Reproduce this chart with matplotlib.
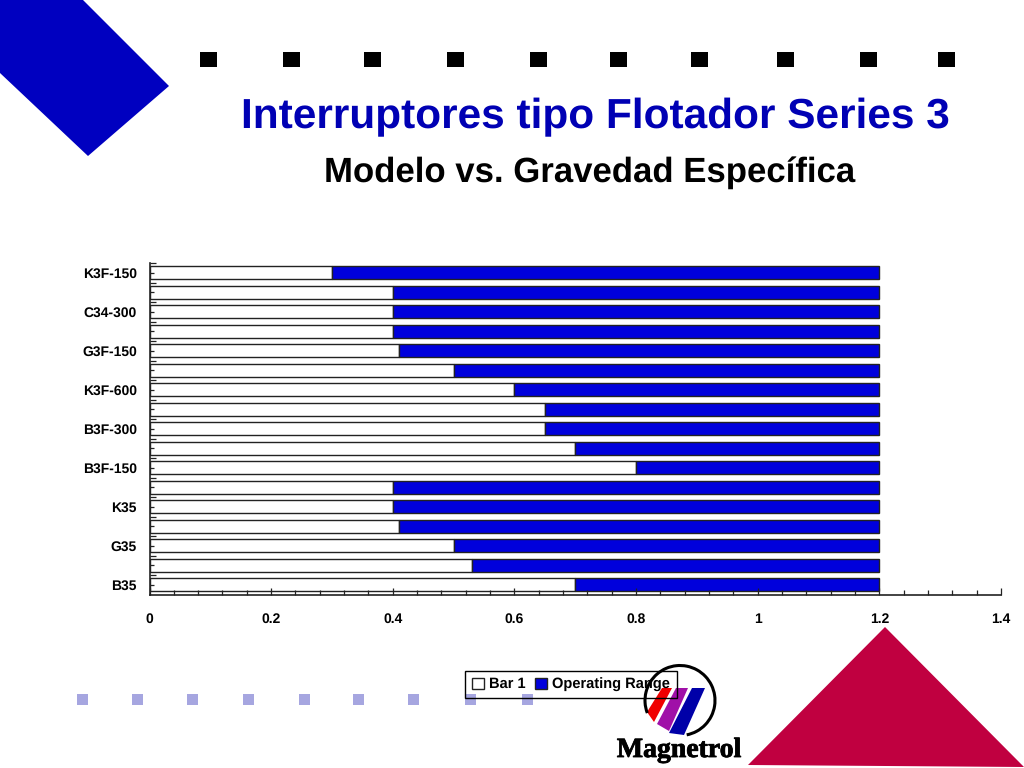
"""Interruptores tipo Flotador Series 3: modelo vs. gravedad especifica."""
import matplotlib
matplotlib.use("Agg")
import matplotlib.pyplot as plt
import matplotlib.patheffects as pe
import numpy as np
from matplotlib.patches import Arc, Polygon, Rectangle

plt.rcParams["font.family"] = ["Liberation Sans", "DejaVu Sans"]
plt.rcParams["text.hinting"] = "no_hinting"

# bottom to top, as the horizontal axis category order runs
models = ["B35", "", "G35", "", "K35", "", "B3F-150", "", "B3F-300", "",
          "K3F-600", "", "G3F-150", "", "C34-300", "", "K3F-150"]
bar_1 = [0.7, 0.53, 0.5, 0.41, 0.4, 0.4, 0.8, 0.7, 0.65, 0.65,
         0.6, 0.5, 0.41, 0.4, 0.4, 0.4, 0.3]
operating_range = [0.5, 0.67, 0.7, 0.79, 0.8, 0.8, 0.4, 0.5, 0.55, 0.55,
                   0.6, 0.7, 0.79, 0.8, 0.8, 0.8, 0.9]
x_ticks = [0, 0.2, 0.4, 0.6, 0.8, 1, 1.2, 1.4]
x_tick_labels = ["0", "0.2", "0.4", "0.6", "0.8", "1", "1.2", "1.4"]

W, H = 1024, 768
BAR_BLUE = "#0000dc"
DECO_BLUE = "#0000c0"
CRIMSON = "#c00040"
LILAC = "#a6a6e0"
EDGE = "#222222"

fig = plt.figure(figsize=(W / 100, H / 100), dpi=100, facecolor="white")

# slide decoration, in pixel coordinates
deco = fig.add_axes([0, 0, 1, 1], zorder=0)
deco.set_xlim(0, W)
deco.set_ylim(H, 0)
deco.axis("off")

deco.add_patch(Polygon([(0, 0), (83, 0), (169, 86), (88, 156), (0, 73)], color=DECO_BLUE, lw=0))
deco.add_patch(Polygon([(885, 627), (1024, 767), (748, 765)], color=CRIMSON, lw=0))

for cx in [208, 291, 372, 455, 538, 618, 699, 785, 868, 946]:
    deco.add_patch(Rectangle((cx - 8.5, 52), 17, 15, color="black", lw=0))
for cx in [82, 137, 192, 248, 304, 358, 413, 470, 527]:
    deco.add_patch(Rectangle((cx - 5.5, 694), 11, 11, color=LILAC, lw=0))

deco.text(595, 128.5, "Interruptores tipo Flotador Series 3", color="#0000b4",
          fontsize=30.5, fontweight="bold", ha="center", va="baseline")
deco.text(590, 182, "Modelo vs. Gravedad Específica", color="black",
          fontsize=25, fontweight="bold", ha="center", va="baseline")

# Magnetrol logo
deco.add_patch(Polygon([(662, 688), (672, 688), (654, 722), (647, 712)], color="#f00000", lw=0))
deco.add_patch(Polygon([(676, 688), (688, 688), (669, 731), (657, 724)], color="#a010a8", lw=0))
deco.add_patch(Polygon([(692, 688), (705, 688), (684, 735), (669, 733)], color="#0000a8", lw=0))
deco.add_patch(Arc((680, 700.5), 70, 70, theta1=159, theta2=439, color="black", lw=2.2))
logo = deco.text(679, 757, "Magnetrol", family="Liberation Serif", fontweight="bold",
                 fontsize=20, color="black", ha="center", va="baseline")
logo.set_path_effects([pe.withStroke(linewidth=0.6, foreground="black")])

# chart
ax = fig.add_axes([149.5 / W, 1 - 594.5 / H, 851.5 / W, 331.5 / H], zorder=1)
ax.patch.set_alpha(0)
y = np.arange(len(models))
ax.barh(y, bar_1, height=0.65, color="white", edgecolor=EDGE, linewidth=1, label="Bar 1")
ax.barh(y, operating_range, left=bar_1, height=0.65, color=BAR_BLUE, edgecolor=EDGE,
        linewidth=1, label="Operating Range")

ax.set_xlim(0, 1.4)
ax.set_ylim(-0.5, len(models) - 0.5)
ax.set_xticks(x_ticks, x_tick_labels)
ax.set_xticks(np.arange(0, 1.4, 0.04), minor=True)
ax.set_yticks(y, models)
ax.set_yticks(np.append(y[:-1] + 0.5, len(models) - 0.5), minor=True)
ax.tick_params(axis="both", which="both", direction="in", width=0.9, color=EDGE)
ax.tick_params(axis="x", which="major", length=5, pad=13)
ax.tick_params(axis="x", which="minor", length=3.5)
ax.tick_params(axis="y", which="major", length=3, pad=9)
ax.tick_params(axis="y", which="minor", length=4.5)
for lab in ax.get_xticklabels() + ax.get_yticklabels():
    lab.set_fontsize(10)
    lab.set_fontweight("bold")
ax.spines["top"].set_visible(False)
ax.spines["right"].set_visible(False)
for side in ("left", "bottom"):
    ax.spines[side].set_color(EDGE)
    ax.spines[side].set_linewidth(1.2)

leg = ax.legend(loc="center", bbox_to_anchor=(571 / W, 1 - 684.5 / H),
                bbox_transform=fig.transFigure, ncol=2, fancybox=False, framealpha=None,
                facecolor="none", edgecolor="black", prop={"size": 10.5, "weight": "bold"},
                handlelength=0.8, handleheight=0.8, handletextpad=0.35,
                columnspacing=0.7, borderpad=0.45, borderaxespad=0)
leg.get_frame().set_alpha(None)
leg.get_frame().set_linewidth(1)

fig.savefig("out.png", dpi=100)
plt.close(fig)
